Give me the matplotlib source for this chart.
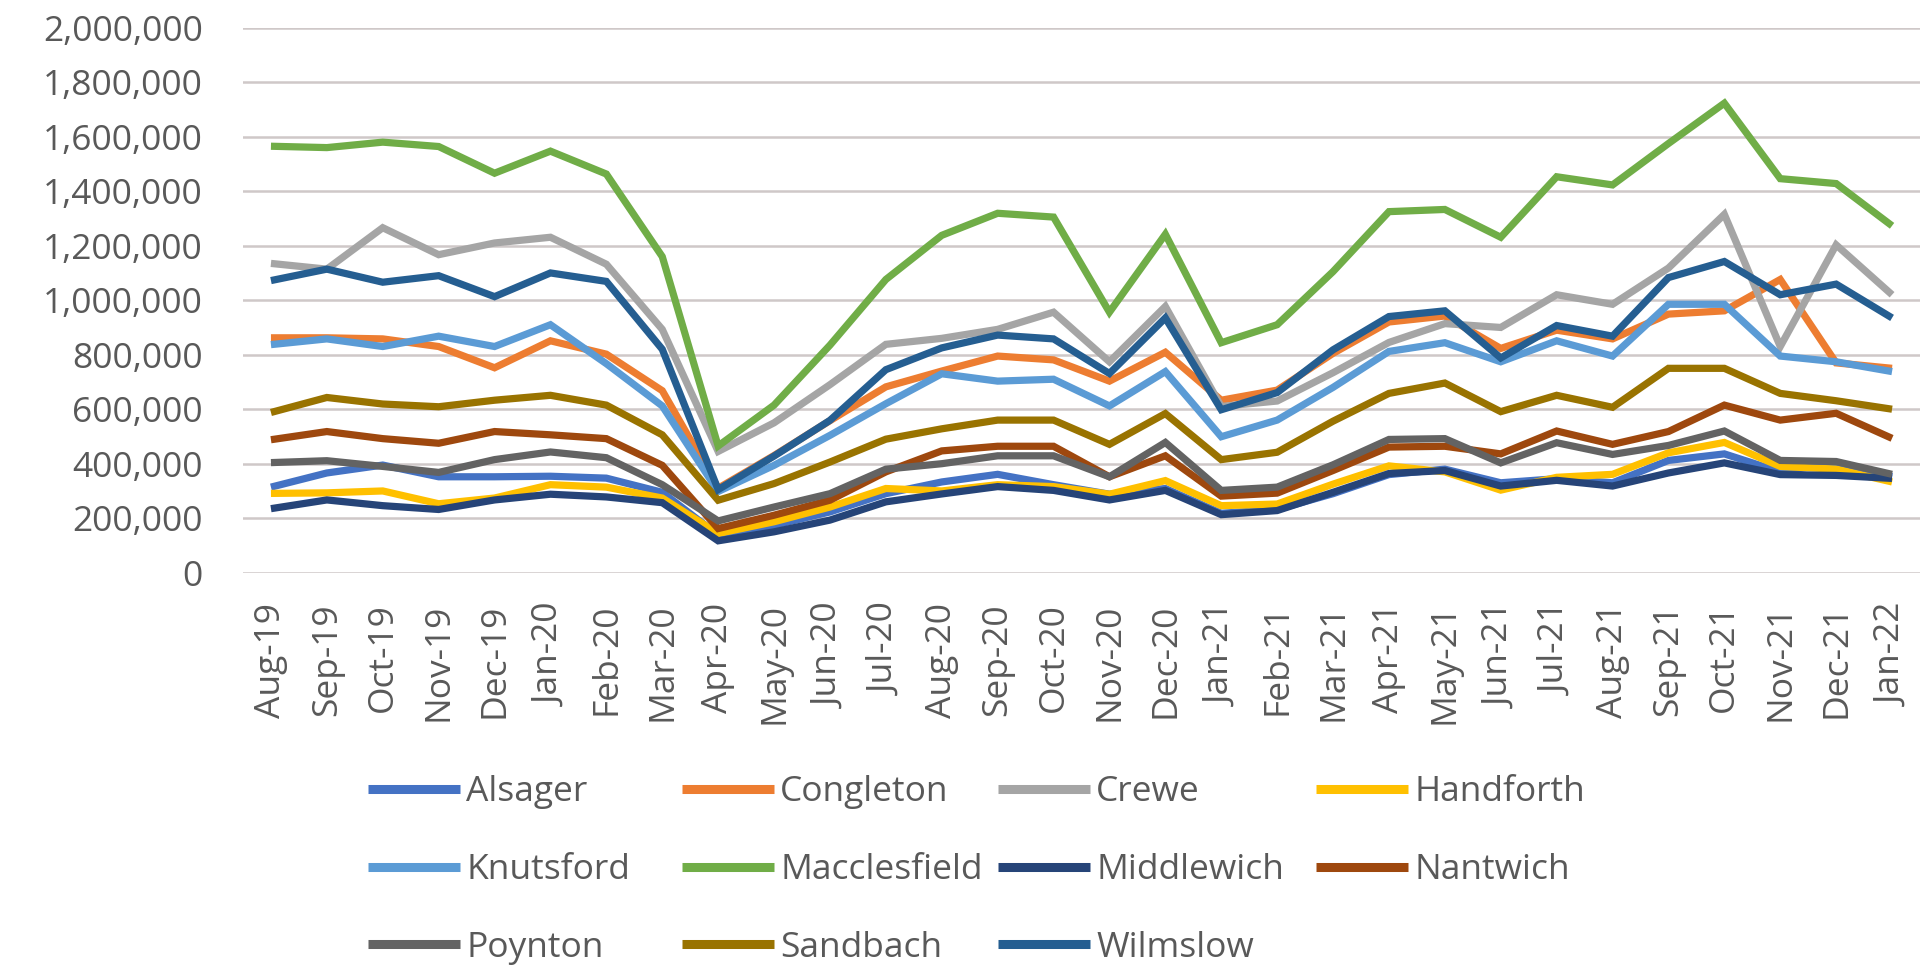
import matplotlib
matplotlib.use("Agg")
import matplotlib.pyplot as plt
from matplotlib.ticker import FuncFormatter, MultipleLocator

months = ["Aug-19", "Sep-19", "Oct-19", "Nov-19", "Dec-19", "Jan-20", "Feb-20", "Mar-20",
          "Apr-20", "May-20", "Jun-20", "Jul-20", "Aug-20", "Sep-20", "Oct-20", "Nov-20",
          "Dec-20", "Jan-21", "Feb-21", "Mar-21", "Apr-21", "May-21", "Jun-21", "Jul-21",
          "Aug-21", "Sep-21", "Oct-21", "Nov-21", "Dec-21", "Jan-22"]

alsager = [314000, 366000, 395000, 352000, 352000, 354000, 347000, 295000, 138000, 174000,
           223000, 290000, 333000, 361000, 323000, 288000, 309000, 218000, 232000, 290000,
           360000, 380000, 330000, 345000, 330000, 412000, 436000, 370000, 405000, 352000]
congleton = [862000, 862000, 858000, 830000, 752000, 851000, 802000, 668000, 310000, 430000,
             558000, 682000, 740000, 795000, 781000, 703000, 809000, 633000, 670000, 805000,
             920000, 942000, 823000, 890000, 858000, 949000, 961000, 1076000, 770000, 750000]
crewe = [1135000, 1114000, 1266000, 1167000, 1210000, 1231000, 1132000, 893000, 445000, 550000,
         690000, 838000, 860000, 893000, 956000, 774000, 977000, 610000, 630000, 734000,
         845000, 914000, 900000, 1020000, 985000, 1118000, 1315000, 830000, 1203000, 1020000]
handforth = [291000, 293000, 300000, 253000, 274000, 323000, 314000, 274000, 144000, 187000,
             241000, 309000, 300000, 323000, 316000, 288000, 338000, 246000, 252000, 325000,
             392000, 370000, 303000, 350000, 361000, 440000, 478000, 390000, 380000, 333000]
knutsford = [837000, 858000, 830000, 868000, 830000, 910000, 767000, 612000, 298000, 394000,
             504000, 620000, 730000, 703000, 710000, 612000, 738000, 499000, 560000, 680000,
             812000, 844000, 774000, 851000, 795000, 985000, 985000, 795000, 774000, 738000]
macclesfield = [1565000, 1560000, 1580000, 1564000, 1466000, 1547000, 1463000, 1160000, 465000, 615000,
                835000, 1076000, 1238000, 1319000, 1305000, 956000, 1242000, 844000, 910000, 1105000,
                1325000, 1333000, 1231000, 1453000, 1423000, 1575000, 1723000, 1446000, 1428000, 1273000]
middlewich = [235000, 267000, 246000, 232000, 267000, 288000, 278000, 257000, 117000, 150000,
              193000, 260000, 289000, 316000, 302000, 267000, 302000, 213000, 228000, 295000,
              364000, 375000, 318000, 339000, 318000, 366000, 403000, 360000, 357000, 346000]
nantwich = [488000, 518000, 492000, 475000, 518000, 506000, 492000, 394000, 162000, 211000,
            266000, 370000, 447000, 464000, 464000, 352000, 429000, 281000, 292000, 375000,
            461000, 464000, 436000, 520000, 471000, 518000, 615000, 560000, 585000, 493000]
poynton = [404000, 411000, 390000, 368000, 415000, 443000, 422000, 323000, 190000, 241000,
           290000, 380000, 400000, 429000, 429000, 352000, 478000, 302000, 314000, 396000,
           489000, 492000, 403000, 477000, 434000, 467000, 520000, 412000, 408000, 361000]
sandbach = [588000, 643000, 619000, 609000, 633000, 651000, 615000, 506000, 266000, 327000,
            406000, 490000, 528000, 560000, 560000, 471000, 584000, 415000, 442000, 556000,
            658000, 696000, 591000, 651000, 607000, 750000, 750000, 658000, 631000, 600000]
wilmslow = [1072000, 1114000, 1066000, 1090000, 1013000, 1100000, 1069000, 820000, 305000, 428000,
            559000, 745000, 825000, 872000, 858000, 731000, 935000, 598000, 661000, 818000,
            940000, 961000, 788000, 907000, 868000, 1083000, 1142000, 1020000, 1059000, 935000]

series_names = ["Alsager", "Congleton", "Crewe", "Handforth", "Knutsford", "Macclesfield",
                "Middlewich", "Nantwich", "Poynton", "Sandbach", "Wilmslow"]
series_values = [alsager, congleton, crewe, handforth, knutsford, macclesfield,
                 middlewich, nantwich, poynton, sandbach, wilmslow]
series_colors = ["#4472C4", "#ED7D31", "#A5A5A5", "#FFC000", "#5B9BD5", "#70AD47",
                 "#264478", "#9E480E", "#636363", "#997300", "#255E91"]

W, H = 1932, 966
plt.rcParams["font.family"] = ["Open Sans", "DejaVu Sans"]
FS = 25.5
TXT = "#595959"

fig = plt.figure(figsize=(W / 100, H / 100), dpi=100)
ax = fig.add_axes([243 / W, 1 - 572.7 / H, (1920 - 243) / W, (572.7 - 27.7) / H])

x = list(range(len(months)))
lines = {}
for name, vals, col in zip(series_names, series_values, series_colors):
    ln, = ax.plot(x, vals, color=col, lw=5.2, solid_joinstyle="miter", solid_capstyle="butt",
                  label=name, zorder=3)
    lines[name] = ln

ax.set_xlim(-0.5, len(months) - 0.5)
ax.set_ylim(0, 2000000)
ax.yaxis.set_major_locator(MultipleLocator(200000))
ax.yaxis.set_major_formatter(FuncFormatter(lambda v, p: f"{v:,.0f}"))
ax.grid(axis="y", color="#CFC8C8", lw=1.8, zorder=0)
ax.set_axisbelow(True)
for s in ax.spines.values():
    s.set_visible(False)
ax.set_xticks(x)
ax.set_xticklabels(months, rotation=90)
ax.tick_params(axis="y", length=0, pad=29, labelsize=FS, labelcolor=TXT)
ax.tick_params(axis="x", length=0, pad=22, labelsize=FS, labelcolor=TXT)

# legend: four columns laid out row by row, as in the reference
columns = [["Alsager", "Knutsford", "Poynton"],
           ["Congleton", "Macclesfield", "Sandbach"],
           ["Crewe", "Middlewich", "Wilmslow"],
           ["Handforth", "Nantwich"]]
col_x = [368, 682, 998, 1316]
top_y = 775
for names, cx in zip(columns, col_x):
    leg = fig.legend([lines[n] for n in names], names, loc="upper left",
                     bbox_to_anchor=(cx / W, 1 - top_y / H), frameon=False,
                     fontsize=FS, handlelength=2.6, handletextpad=0.17,
                     labelspacing=1.24, borderpad=0, borderaxespad=0, labelcolor=TXT)
    for lh in leg.get_lines():
        lh.set_linewidth(6.5)

fig.savefig("out.png", dpi=100, facecolor="white")
